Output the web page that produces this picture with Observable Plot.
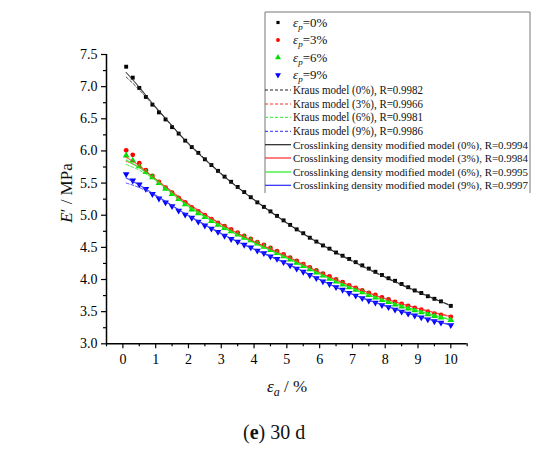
<!DOCTYPE html>
<html>
<head>
<meta charset="utf-8">
<script src="https://cdn.jsdelivr.net/npm/d3@7"></script>
<script src="https://cdn.jsdelivr.net/npm/@observablehq/plot@0.6"></script>
<style>
  html, body { margin: 0; padding: 0; background: #fff; }
  #chart { width: 550px; height: 410px; }
  #chart svg text { font-family: "Liberation Serif", "Times New Roman", serif; }
  #caption { width: 550px; text-align: left; font-family: "Liberation Serif", serif; font-size: 20px; line-height: 23px; color: #111; margin-top: 11px; padding-left: 243px; box-sizing: border-box; }
</style>
</head>
<body>
<div id="chart"></div>
<div id="caption">(<b>e</b>) 30 d</div>
<script>
// ---- data ----
const xs = [0.1,0.3,0.5,0.7,0.9,1.1,1.3,1.5,1.7,1.9,2.1,2.3,2.5,2.7,2.9,3.1,3.3,3.5,3.7,3.9,4.1,4.3,4.5,4.7,4.9,
            5.1,5.3,5.5,5.7,5.9,6.1,6.3,6.5,6.7,6.9,7.1,7.3,7.5,7.7,7.9,8.1,8.3,8.5,8.7,8.9,9.1,9.3,9.5,9.7,10.0];
const ep0 = [7.31,7.14,6.98,6.84,6.72,6.60,6.49,6.37,6.27,6.16,6.06,5.97,5.87,5.78,5.69,5.60,5.52,5.44,5.36,5.28,
             5.20,5.13,5.06,4.99,4.92,4.85,4.78,4.72,4.65,4.59,4.53,4.48,4.42,4.37,4.32,4.27,4.22,4.17,4.12,4.07,
             4.02,3.98,3.93,3.88,3.83,3.79,3.74,3.70,3.66,3.59];
const ep3 = [6.01,5.94,5.81,5.70,5.61,5.52,5.43,5.35,5.27,5.20,5.12,5.06,5.00,4.94,4.88,4.83,4.78,4.73,4.68,4.63,
             4.58,4.54,4.49,4.44,4.39,4.34,4.29,4.24,4.19,4.14,4.09,4.05,4.00,3.96,3.91,3.87,3.83,3.79,3.76,3.72,
             3.69,3.65,3.62,3.59,3.56,3.53,3.50,3.47,3.45,3.42];
const ep6 = [5.93,5.85,5.76,5.67,5.59,5.50,5.41,5.33,5.25,5.17,5.09,5.03,4.97,4.91,4.85,4.80,4.75,4.70,4.65,4.61,
             4.56,4.51,4.46,4.41,4.36,4.31,4.26,4.21,4.16,4.11,4.06,4.01,3.97,3.92,3.88,3.84,3.80,3.76,3.72,3.68,
             3.65,3.61,3.58,3.55,3.52,3.49,3.46,3.43,3.41,3.37];
const ep9 = [5.64,5.54,5.48,5.41,5.33,5.26,5.20,5.14,5.07,5.01,4.96,4.90,4.84,4.79,4.74,4.68,4.63,4.59,4.54,4.50,
             4.45,4.41,4.36,4.32,4.27,4.22,4.17,4.12,4.07,4.02,3.97,3.93,3.88,3.84,3.79,3.75,3.71,3.67,3.64,3.60,
             3.57,3.53,3.50,3.47,3.44,3.41,3.38,3.35,3.33,3.29];

const xf = [0.1,0.5,1,1.5,2,3,4,5,6,7,8,9,10];
const kraus0 = [7.15,6.95,6.67,6.39,6.12,5.65,5.24,4.88,4.56,4.28,4.03,3.80,3.60];
const kraus3 = [5.84,5.74,5.56,5.37,5.18,4.86,4.59,4.35,4.11,3.89,3.70,3.55,3.43];
const kraus6 = [5.79,5.70,5.54,5.34,5.15,4.83,4.57,4.33,4.09,3.86,3.67,3.52,3.38];
const kraus9 = [5.50,5.43,5.30,5.15,5.00,4.72,4.47,4.24,4.00,3.77,3.59,3.43,3.30];
const cross0 = [7.22,6.99,6.68,6.39,6.11,5.64,5.24,4.88,4.56,4.29,4.04,3.81,3.59];
const cross3 = [5.90,5.77,5.56,5.36,5.17,4.86,4.59,4.36,4.11,3.89,3.70,3.55,3.42];
const cross6 = [5.86,5.74,5.55,5.34,5.14,4.83,4.57,4.34,4.09,3.86,3.67,3.51,3.37];
const cross9 = [5.58,5.47,5.31,5.15,4.99,4.71,4.47,4.25,4.00,3.77,3.59,3.43,3.29];

const xTicks = [0,1,2,3,4,5,6,7,8,9,10];
const xMinor = [-0.5,0.5,1.5,2.5,3.5,4.5,5.5,6.5,7.5,8.5,9.5,10.5];
const yTicks = [3.0,3.5,4.0,4.5,5.0,5.5,6.0,6.5,7.0,7.5];
const yMinor = [3.25,3.75,4.25,4.75,5.25,5.75,6.25,6.75,7.25];

const pointSeries = ["0%","3%","6%","9%"];
const modelNames = ["Kraus model","Crosslinking density modified model"];
const kraR = ["0.9982","0.9966","0.9981","0.9986"];
const croR = ["0.9994","0.9984","0.9995","0.9997"];
const colors = ["#000000","#ff0000","#00dd00","#0000ff"];
const lineColors = ["#222222","#ff2a2a","#22ee22","#2a2aff"];

// ---- tables ----
const pts = [ep0, ep3, ep6, ep9].map(arr => xs.map((x, i) => ({x, y: arr[i]})));
const kra = [kraus0, kraus3, kraus6, kraus9].map(arr => xf.map((x, i) => ({x, y: arr[i]})));
const cro = [cross0, cross3, cross6, cross9].map(arr => xf.map((x, i) => ({x, y: arr[i]})));

const font = "Liberation Serif, Times New Roman, serif";
const marks = [];
marks.push(Plot.axisX({ticks: xTicks, tickSize: 5, tickPadding: 5, tickFormat: d => String(d), label: null, strokeWidth: 1.2, fontSize: 14, fontFamily: font}));
marks.push(Plot.axisX({ticks: xMinor, tickSize: 3, tickFormat: () => "", label: null, strokeWidth: 1.2}));
marks.push(Plot.axisY({ticks: yTicks, tickSize: 5, tickPadding: 4, tickFormat: d => d.toFixed(1), label: null, strokeWidth: 1.2, fontSize: 14, fontFamily: font}));
marks.push(Plot.axisY({ticks: yMinor, tickSize: 3, tickFormat: () => "", label: null, strokeWidth: 1.2}));
marks.push(Plot.ruleX([-0.5], {y1: 3, y2: 7.5, stroke: "black", strokeWidth: 1.5}));
marks.push(Plot.ruleY([3], {x1: -0.5, x2: 10.5, stroke: "black", strokeWidth: 1.5}));

const syms = ["square","circle","triangle","triangle"];
const rots = [0,0,0,180];
const rr = [2.2,2.4,2.5,2.5];
pts.forEach((d, k) => {
  marks.push(Plot.dot(d, {x: "x", y: "y", symbol: syms[k], rotate: rots[k], r: rr[k], fill: colors[k], stroke: "none"}));
});
kra.forEach((d, k) => {
  marks.push(Plot.line(d, {x: "x", y: "y", curve: "natural", stroke: lineColors[k], strokeWidth: 1, strokeDasharray: "3,2", strokeOpacity: 0.8}));
});
cro.forEach((d, k) => {
  marks.push(Plot.line(d, {x: "x", y: "y", curve: "natural", stroke: lineColors[k], strokeWidth: 1.1, strokeOpacity: 0.85}));
});

const svgEl = Plot.plot({
  width: 550, height: 410,
  marginLeft: 106, marginRight: 83.3, marginTop: 54, marginBottom: 66.7,
  x: {domain: [-0.5, 10.5]},
  y: {domain: [3, 7.5]},
  style: {fontFamily: font, fontSize: "13px", color: "black", background: "white"},
  marks
});
document.getElementById("chart").appendChild(svgEl);

// ---- labels & legend ----
const svg = d3.select(svgEl);
// y label
const yl = svg.append("text").attr("transform", "translate(72,193) rotate(-90)")
  .attr("text-anchor", "middle").attr("font-family", font).attr("font-size", 17).attr("fill", "#111");
yl.append("tspan").attr("font-style", "italic").text("E");
yl.append("tspan").text("′ / MPa");
// x label
const xl = svg.append("text").attr("x", 287).attr("y", 392).attr("text-anchor", "middle")
  .attr("font-family", font).attr("font-size", 17).attr("fill", "#111");
xl.append("tspan").attr("font-style", "italic").text("ε");
xl.append("tspan").attr("font-style", "italic").attr("font-size", 12).attr("dy", 4).text("a");
xl.append("tspan").attr("dy", -4).text(" / %");

// legend
const lg = svg.append("g").attr("font-family", font).attr("font-size", 11).attr("fill", "#111").attr("text-anchor", "start");
const bx0 = 265, bx1 = 530, by0 = 12, by1 = 193;
lg.append("path").attr("d", `M${bx0},${by1}V${by0}H${bx1}V${by1}`).attr("fill", "none").attr("stroke", "#777").attr("stroke-width", 1);
const rowY = [22.5, 40, 57.5, 75, 90, 104, 117.3, 131.3, 144.7, 158, 172, 185.3];
const symGen = [d3.symbolSquare, d3.symbolCircle, d3.symbolTriangle, d3.symbolTriangle];
const symSize = [10, 12, 15, 15];
pointSeries.forEach((s, k) => {
  const cy = rowY[k];
  lg.append("path").attr("d", d3.symbol(symGen[k], symSize[k])())
    .attr("transform", `translate(278,${cy})` + (k === 3 ? " rotate(180)" : ""))
    .attr("fill", colors[k]);
  const t = lg.append("text").attr("x", 293).attr("y", cy + 4).attr("font-size", 13);
  t.append("tspan").attr("font-style", "italic").text("ε");
  t.append("tspan").attr("font-style", "italic").attr("font-size", 9).attr("dy", 3).text("p");
  t.append("tspan").attr("dy", -3).text("=" + s);
});
pointSeries.forEach((s, k) => {
  const cy = rowY[4 + k];
  lg.append("line").attr("x1", bx0).attr("x2", 291).attr("y1", cy).attr("y2", cy)
    .attr("stroke", lineColors[k]).attr("stroke-dasharray", "3,2").attr("stroke-width", 1);
  lg.append("text").attr("x", 293).attr("y", cy + 4).attr("font-size", 12)
    .attr("textLength", 130).attr("lengthAdjust", "spacingAndGlyphs")
    .text(`${modelNames[0]} (${s}), R=${kraR[k]}`);
});
pointSeries.forEach((s, k) => {
  const cy = rowY[8 + k];
  lg.append("line").attr("x1", bx0).attr("x2", 291).attr("y1", cy).attr("y2", cy)
    .attr("stroke", lineColors[k]).attr("stroke-width", 1.2);
  lg.append("text").attr("x", 293).attr("y", cy + 4).attr("font-size", 11)
    .attr("textLength", 235).attr("lengthAdjust", "spacingAndGlyphs")
    .text(`${modelNames[1]} (${s}), R=${croR[k]}`);
});
</script>
</body>
</html>
